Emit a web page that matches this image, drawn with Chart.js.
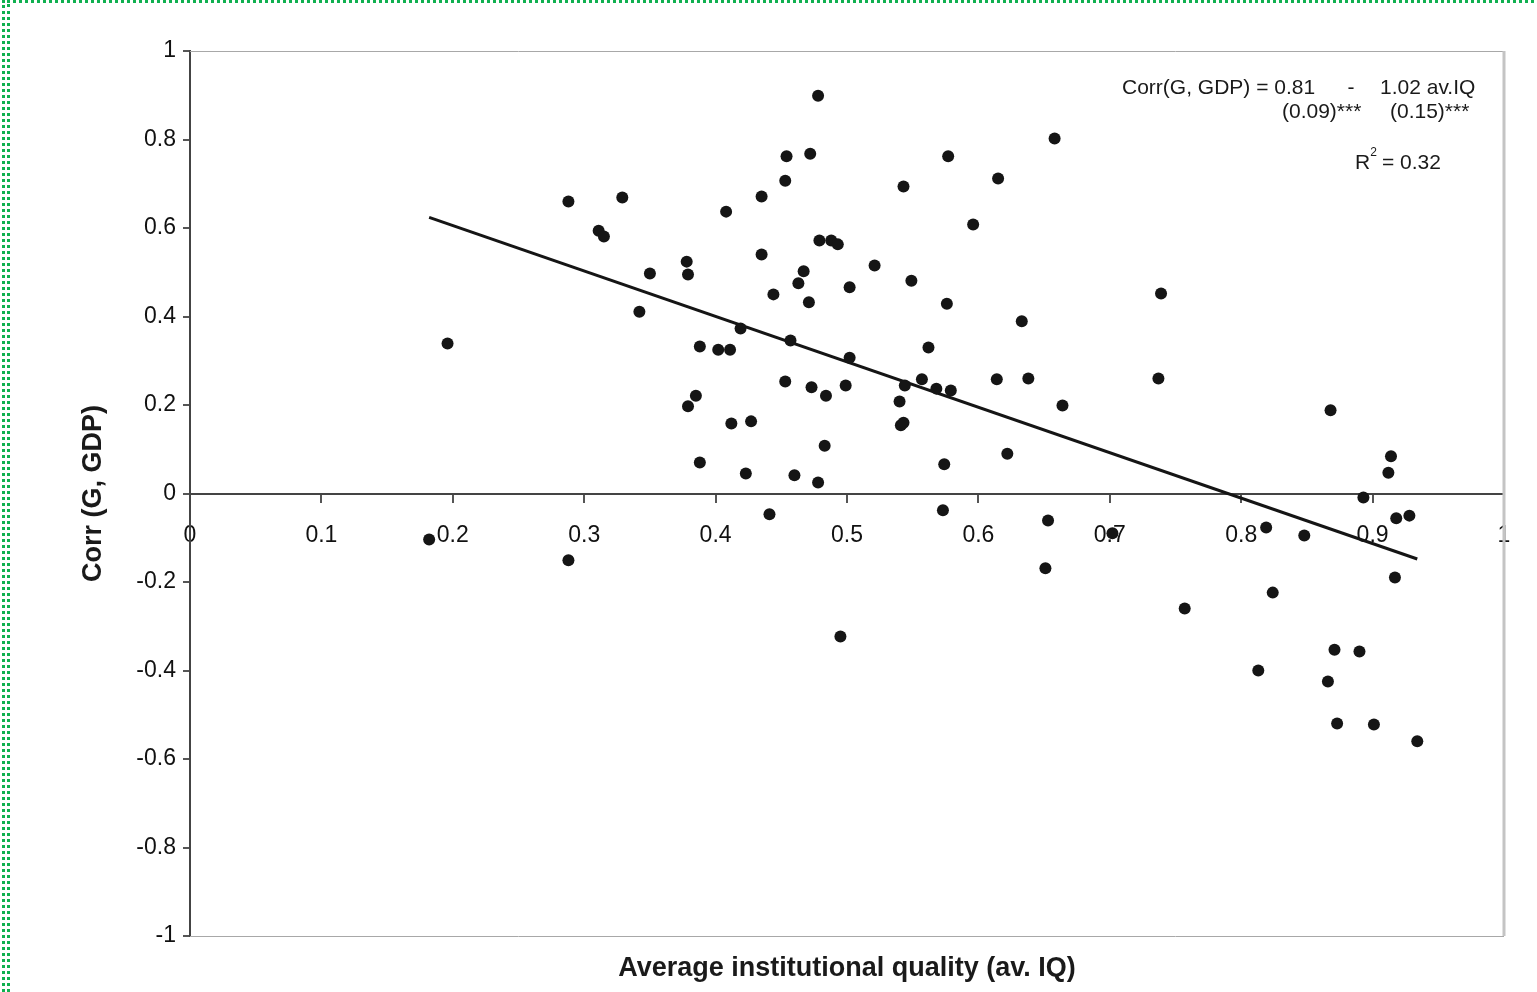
<!DOCTYPE html>
<html>
<head>
<meta charset="utf-8">
<script src="https://cdn.jsdelivr.net/npm/chart.js@4.4.1/dist/chart.umd.min.js"></script>
<style>
  html, body { margin: 0; padding: 0; background: #fff; overflow: hidden; }
  #wrap { position: relative; width: 1537px; height: 992px; }
  canvas { position: absolute; left: 0; top: 0; }
  .dots1 { position: absolute; left: 2px; top: 0; width: 1540px; height: 1000px;
           border-top: 3px dotted #10b050; border-left: 3px dotted #10b050; }
  .dots2 { position: absolute; left: 7px; top: 4px; width: 10px; height: 1000px;
           border-left: 3px dotted #10b050; }
</style>
</head>
<body>
<div id="wrap">
  <canvas id="grafico" width="1537" height="992"></canvas>
  <div class="dots1"></div>
  <div class="dots2"></div>
</div>
<script>
// valores (média da qualidade institucional x correlação)
const avIQ = [0.182,0.196,0.288,0.288,0.311,0.315,0.329,0.342,0.350,0.378,
  0.379,0.379,0.385,0.388,0.388,0.402,0.411,0.408,0.412,0.419,
  0.423,0.427,0.435,0.435,0.441,0.444,0.453,0.453,0.454,0.457,
  0.460,0.463,0.467,0.471,0.472,0.473,0.478,0.478,0.479,0.484,
  0.483,0.488,0.493,0.495,0.499,0.502,0.502,0.521,0.540,0.543,
  0.541,0.543,0.544,0.549,0.557,0.562,0.568,0.573,0.574,0.576,
  0.577,0.579,0.596,0.615,0.614,0.622,0.633,0.638,0.651,0.653,
  0.658,0.664,0.702,0.737,0.739,0.757,0.813,0.819,0.824,0.848,
  0.866,0.868,0.871,0.873,0.890,0.893,0.901,0.912,0.914,0.917,
  0.918,0.928,0.934];
const corrGGDP = [-0.104,0.339,0.660,-0.151,0.594,0.581,0.669,0.411,0.497,0.524,
  0.495,0.197,0.221,0.332,0.070,0.325,0.325,0.637,0.158,0.373,
  0.045,0.163,0.671,0.540,-0.047,0.450,0.253,0.707,0.762,0.346,
  0.041,0.475,0.502,0.432,0.768,0.240,0.025,0.899,0.572,0.221,
  0.108,0.572,0.563,-0.323,0.244,0.466,0.307,0.515,0.208,0.694,
  0.154,0.160,0.244,0.481,0.258,0.330,0.237,-0.038,0.066,0.429,
  0.762,0.233,0.608,0.712,0.258,0.090,0.389,0.260,-0.169,-0.061,
  0.802,0.199,-0.090,0.260,0.452,-0.260,-0.400,-0.077,-0.224,-0.095,
  -0.425,0.188,-0.353,-0.520,-0.357,-0.009,-0.522,0.047,0.084,-0.190,
  -0.056,-0.050,-0.560];

// reta de regressão (extremos)
const retaX = [0.182, 0.934];
const retaY = [0.624, -0.148];

const xTicks = ['0','0.1','0.2','0.3','0.4','0.5','0.6','0.7','0.8','0.9','1'];
const yTicks = ['-1','-0.8','-0.6','-0.4','-0.2','0','0.2','0.4','0.6','0.8','1'];

const pontos = avIQ.map((x, i) => ({ x: x, y: corrGGDP[i] }));
const reta = retaX.map((x, i) => ({ x: x, y: retaY[i] }));

const fonte = "'Liberation Sans', Arial, sans-serif";

// moldura cinza da área do gráfico
const moldura = {
    id: 'moldura',
    beforeDatasetsDraw(chart) {
        const { ctx, chartArea: a } = chart;
        ctx.save();
        ctx.strokeStyle = '#a8a8a8';
        ctx.lineWidth = 1;
        ctx.beginPath();
        ctx.moveTo(a.left, a.top + 0.5);
        ctx.lineTo(a.right, a.top + 0.5);
        ctx.moveTo(a.left, a.bottom + 0.5);
        ctx.lineTo(a.right, a.bottom + 0.5);
        ctx.stroke();
        ctx.strokeStyle = '#c4c4c4';
        ctx.lineWidth = 3;
        ctx.beginPath();
        ctx.moveTo(a.right, a.top);
        ctx.lineTo(a.right, a.bottom);
        ctx.stroke();
        ctx.restore();
    }
};

// texto da equação no canto superior direito
const equacao = {
    id: 'equacao',
    afterDraw(chart) {
        const ctx = chart.ctx;
        ctx.save();
        ctx.fillStyle = '#1a1a1a';
        ctx.textBaseline = 'middle';
        ctx.font = '21px ' + fonte;
        ctx.textAlign = 'left';
        ctx.fillText('Corr(G, GDP) = 0.81', 1122, 88);
        ctx.textAlign = 'center';
        ctx.fillText('-', 1351, 88);
        ctx.textAlign = 'left';
        ctx.fillText('1.02 av.IQ', 1380, 88);
        ctx.fillText('(0.09)***', 1282, 112);
        ctx.fillText('(0.15)***', 1390, 112);
        ctx.fillText('R', 1355, 163);
        const wR = ctx.measureText('R').width;
        ctx.font = '12px ' + fonte;
        ctx.fillText('2', 1355 + wR, 153);
        ctx.font = '21px ' + fonte;
        ctx.fillText(' = 0.32', 1355 + wR + 6, 163);
        ctx.restore();
    }
};

const ctx = document.getElementById('grafico').getContext('2d');
new Chart(ctx, {
    type: 'scatter',
    data: {
        datasets: [
            {
                label: 'Corr(G, GDP)',
                data: pontos,
                backgroundColor: '#151515',
                borderWidth: 0,
                pointRadius: 6,
                pointHoverRadius: 6
            },
            {
                label: 'Regressão',
                type: 'line',
                data: reta,
                borderColor: '#151515',
                borderWidth: 3,
                pointRadius: 0,
                fill: false
            }
        ]
    },
    options: {
        responsive: false,
        animation: false,
        devicePixelRatio: 1,
        layout: { padding: { left: 70, top: 51, right: 33, bottom: 0 } },
        plugins: {
            legend: { display: false },
            tooltip: { enabled: false }
        },
        scales: {
            x: {
                type: 'linear',
                position: 'bottom',
                min: 0,
                max: 1,
                ticks: { display: false },
                grid: { display: false },
                border: { display: false },
                title: {
                    display: true,
                    text: 'Average institutional quality (av. IQ)',
                    color: '#1a1a1a',
                    font: { family: fonte, size: 27, weight: 'bold' },
                    padding: { top: 0, bottom: 7 }
                },
                afterFit: (s) => { s.height = 56; }
            },
            x2: {
                type: 'linear',
                axis: 'x',
                position: { y: 0 },
                min: 0,
                max: 1,
                ticks: {
                    stepSize: 0.1,
                    color: '#111',
                    font: { family: fonte, size: 23 },
                    padding: 20,
                    maxRotation: 0,
                    autoSkip: false,
                    callback: (v) => xTicks[Math.round(v * 10)]
                },
                grid: { drawOnChartArea: false, tickLength: 8, color: '#555', lineWidth: 2 },
                border: { color: '#444', width: 2 }
            },
            y: {
                type: 'linear',
                min: -1,
                max: 1,
                ticks: {
                    stepSize: 0.2,
                    color: '#111',
                    font: { family: fonte, size: 23 },
                    padding: 7,
                    autoSkip: false,
                    callback: (v) => yTicks[Math.round((v + 1) * 5)]
                },
                grid: { drawOnChartArea: false, tickLength: 7, color: '#555', lineWidth: 2 },
                border: { color: '#444', width: 2 },
                title: {
                    display: true,
                    text: 'Corr (G, GDP)',
                    color: '#1a1a1a',
                    font: { family: fonte, size: 27, weight: 'bold' },
                    padding: { top: 7, bottom: 0 }
                },
                afterFit: (s) => { s.width = 120; }
            }
        }
    },
    plugins: [moldura, equacao]
});
</script>
</body>
</html>
